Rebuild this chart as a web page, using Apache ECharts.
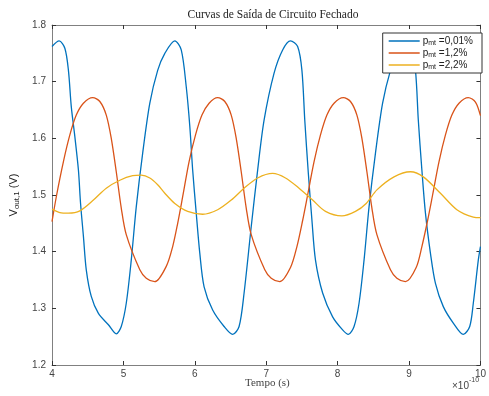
<!DOCTYPE html>
<html>
<head>
<meta charset="utf-8">
<script src="https://cdn.jsdelivr.net/npm/echarts@6/dist/echarts.min.js"></script>
<style>
  html, body { margin: 0; padding: 0; background: #fff; }
  #chart { width: 489px; height: 396px; }
</style>
</head>
<body>
<div id="chart"></div>
<script>
// tempo em unidades de 1e-10 s
var xTicks = [4, 5, 6, 7, 8, 9, 10];
var yTicks = [1.2, 1.3, 1.4, 1.5, 1.6, 1.7, 1.8];
var legendNames = ['0,01%', '1,2%', '2,2%'];

var blue = [
  [4.00, 1.762], [4.10, 1.772], [4.18, 1.759], [4.23, 1.72], [4.27, 1.656], [4.32, 1.603],
  [4.37, 1.544], [4.40, 1.485], [4.44, 1.427], [4.48, 1.368], [4.55, 1.321], [4.65, 1.291],
  [4.79, 1.271], [4.90, 1.255], [4.97, 1.268], [5.04, 1.309], [5.11, 1.385], [5.18, 1.479],
  [5.27, 1.574], [5.37, 1.662], [5.48, 1.72], [5.58, 1.75], [5.72, 1.772], [5.81, 1.756],
  [5.88, 1.691], [5.93, 1.621], [5.97, 1.544], [6.02, 1.468], [6.07, 1.397], [6.13, 1.338],
  [6.25, 1.297], [6.41, 1.268], [6.53, 1.254], [6.62, 1.268], [6.69, 1.327], [6.79, 1.444],
  [6.88, 1.544], [6.97, 1.632], [7.11, 1.715], [7.23, 1.756], [7.34, 1.772], [7.44, 1.762],
  [7.50, 1.72], [7.54, 1.632], [7.59, 1.538], [7.64, 1.456], [7.69, 1.385], [7.79, 1.327],
  [7.93, 1.285], [8.07, 1.262], [8.15, 1.254], [8.23, 1.268], [8.30, 1.309], [8.37, 1.385],
  [8.44, 1.479], [8.53, 1.574], [8.63, 1.662], [8.74, 1.72], [8.84, 1.752], [8.95, 1.772],
  [9.03, 1.756], [9.09, 1.72], [9.13, 1.632], [9.18, 1.544], [9.23, 1.468], [9.30, 1.397],
  [9.37, 1.344], [9.48, 1.303], [9.62, 1.274], [9.76, 1.254], [9.85, 1.268], [9.90, 1.309],
  [9.97, 1.385], [10.0, 1.409]
];

var orange = [
  [4.00, 1.453], [4.065, 1.50], [4.16, 1.559], [4.25, 1.606], [4.34, 1.641], [4.44, 1.662],
  [4.57, 1.672], [4.67, 1.665], [4.76, 1.641], [4.83, 1.60], [4.90, 1.541], [4.97, 1.477],
  [5.04, 1.43], [5.23, 1.368], [5.32, 1.353], [5.44, 1.347], [5.60, 1.374], [5.69, 1.409],
  [5.76, 1.45], [5.83, 1.497], [5.92, 1.559], [6.01, 1.606], [6.10, 1.641], [6.20, 1.662],
  [6.32, 1.672], [6.42, 1.665], [6.51, 1.641], [6.58, 1.60], [6.65, 1.541], [6.72, 1.477],
  [6.79, 1.43], [6.98, 1.368], [7.07, 1.353], [7.19, 1.347], [7.34, 1.372], [7.43, 1.409],
  [7.51, 1.455], [7.58, 1.50], [7.67, 1.559], [7.76, 1.606], [7.85, 1.641], [7.95, 1.662],
  [8.08, 1.672], [8.18, 1.665], [8.27, 1.641], [8.34, 1.60], [8.41, 1.541], [8.48, 1.477],
  [8.55, 1.43], [8.74, 1.368], [8.83, 1.353], [8.95, 1.347], [9.10, 1.372], [9.18, 1.409],
  [9.26, 1.455], [9.33, 1.50], [9.42, 1.559], [9.51, 1.606], [9.60, 1.641], [9.70, 1.662],
  [9.83, 1.672], [9.93, 1.664], [10.0, 1.64]
];

var yellow = [
  [4.00, 1.475], [4.11, 1.469], [4.23, 1.468], [4.39, 1.472], [4.58, 1.491], [4.76, 1.512],
  [4.95, 1.526], [5.13, 1.534], [5.25, 1.535], [5.37, 1.53], [5.48, 1.518], [5.58, 1.503],
  [5.72, 1.485], [5.90, 1.471], [6.11, 1.466], [6.32, 1.474], [6.51, 1.491], [6.69, 1.512],
  [6.88, 1.53], [7.09, 1.538], [7.27, 1.53], [7.46, 1.512], [7.65, 1.491], [7.83, 1.471],
  [8.06, 1.463], [8.25, 1.471], [8.40, 1.485], [8.55, 1.509], [8.79, 1.532], [9.02, 1.541],
  [9.20, 1.532], [9.44, 1.503], [9.67, 1.474], [9.90, 1.461], [10.0, 1.46]
];

var chart = echarts.init(document.getElementById('chart'));

var axisGray = '#808080';
var sans = 'Liberation Sans';
var serif = 'Liberation Serif';

function boxAxis (pos, min, max, step, showLabel, fmt) {
  return {
    type: 'value',
    position: pos,
    min: min,
    max: max,
    interval: step,
    axisLine: { show: true, lineStyle: { color: axisGray, width: 1 } },
    axisTick: { show: true, inside: true, length: 4, lineStyle: { color: '#333' } },
    splitLine: { show: false },
    axisLabel: {
      show: showLabel,
      color: '#444',
      fontFamily: sans,
      fontSize: 10,
      margin: 6,
      formatter: fmt
    }
  };
}

var xBottom = boxAxis('bottom', xTicks[0], xTicks[xTicks.length - 1], 1, true, function (v) { return String(v); });
xBottom.axisLabel.margin = 4;
var xTop = boxAxis('top', xTicks[0], xTicks[xTicks.length - 1], 1, false);
var yLeft = boxAxis('left', yTicks[0], yTicks[yTicks.length - 1], 0.1, true, function (v) { return v.toFixed(1); });
yLeft.name = '{v|V}{s|out,1}{v| (V)}';
yLeft.nameLocation = 'middle';
yLeft.nameGap = 29;
yLeft.nameTextStyle = {
  rich: {
    v: { fontFamily: sans, fontSize: 11, color: '#222' },
    s: { fontFamily: sans, fontSize: 8, color: '#222', verticalAlign: 'bottom', padding: [6, 0, 0, 0] }
  }
};
var yRight = boxAxis('right', yTicks[0], yTicks[yTicks.length - 1], 0.1, false);

function lineSeries (name, data, color) {
  return {
    name: name,
    type: 'line',
    data: data,
    symbol: 'none',
    showSymbol: false,
    smooth: 0.3,
    lineStyle: { color: color, width: 1.3 },
    itemStyle: { color: color },
    z: 2
  };
}

chart.setOption({
  animation: false,
  backgroundColor: '#fff',
  title: {
    text: 'Curvas de Saída de Circuito Fechado',
    left: 268,
    textAlign: 'center',
    top: 4,
    textStyle: { fontFamily: serif, fontSize: 11.5, fontWeight: 'normal', color: '#222' }
  },
  grid: { left: 52, right: 7, top: 25, bottom: 31 },
  xAxis: [xBottom, xTop],
  yAxis: [yLeft, yRight],
  legend: {
    orient: 'vertical',
    right: 7,
    top: 33,
    padding: [2, 9, 2, 6],
    icon: 'rect',
    itemWidth: 31,
    itemHeight: 1.5,
    itemGap: 0,
    backgroundColor: '#fff',
    borderColor: '#333',
    borderWidth: 1,
    borderRadius: 0,
    data: legendNames,
    formatter: function (name) { return '{p|p}{s|mt}{p| =' + name + '}'; },
    textStyle: {
      padding: [0, 0, 0, -2],
      lineHeight: 12,
      rich: {
        p: { fontFamily: sans, fontSize: 10, color: '#222', lineHeight: 12 },
        s: { fontFamily: sans, fontSize: 7, color: '#222', verticalAlign: 'bottom', lineHeight: 12, padding: [5, 0, 0, 0] }
      }
    }
  },
  graphic: [
    {
      type: 'text',
      left: 270 - 25,
      top: 378,
      style: { text: 'Tempo (s)', font: '11px "Liberation Serif"', fill: '#444' }
    },
    {
      type: 'text',
      left: 452,
      top: 377,
      style: {
        text: '{a|×10}{b|-10}',
        rich: {
          a: { fontFamily: sans, fontSize: 10, fill: '#444', padding: [4, 0, 0, 0] },
          b: { fontFamily: sans, fontSize: 7, fill: '#444', verticalAlign: 'top' }
        }
      }
    }
  ],
  series: [
    lineSeries(legendNames[0], blue, '#0072BD'),
    lineSeries(legendNames[1], orange, '#D95319'),
    lineSeries(legendNames[2], yellow, '#EDB120')
  ]
});
</script>
</body>
</html>
